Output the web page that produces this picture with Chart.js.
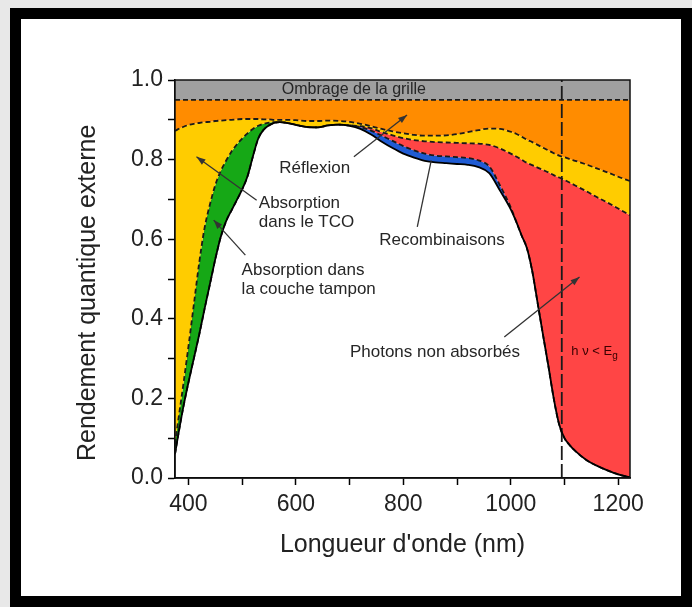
<!DOCTYPE html>
<html><head><meta charset="utf-8">
<script src="https://cdn.jsdelivr.net/npm/chart.js@4.4.1/dist/chart.umd.min.js"></script>
<style>
html,body{margin:0;padding:0;background:#e8e8e8;}
#wrap{position:relative;width:692px;height:607px;overflow:hidden;background:#e8e8e8;}
#frame{position:absolute;left:10px;top:8px;width:682px;height:599px;border:11px solid #000;box-sizing:border-box;background:#fff;}
#c{position:absolute;left:0;top:0;}
</style></head>
<body>
<div id="wrap"><div id="frame"></div><canvas id="c" width="692" height="607"></canvas></div>
<script>
// ---- data (wavelength in nm, values = external quantum efficiency) ----
const WAVELENGTHS = [375,380,390,400,410,420,430,440,450,460,470,480,490,500,510,520,530,540,550,560,570,580,600,620,640,660,680,700,720,740,760,780,800,820,840,860,880,900,920,940,960,980,1000,1010,1020,1030,1040,1050,1060,1070,1080,1090,1100,1110,1120,1140,1160,1180,1200,1222];
// measured EQE (solid black curve)
const EQE = [0.06,0.1,0.175,0.24,0.3,0.36,0.425,0.487,0.55,0.605,0.645,0.672,0.698,0.725,0.758,0.808,0.853,0.875,0.886,0.892,0.894,0.893,0.887,0.882,0.881,0.886,0.888,0.885,0.877,0.863,0.845,0.829,0.815,0.805,0.797,0.793,0.791,0.789,0.787,0.781,0.766,0.722,0.675,0.645,0.61,0.578,0.52,0.44,0.36,0.282,0.2,0.135,0.1,0.082,0.068,0.046,0.031,0.019,0.009,0.002];
// EQE + recombination losses (top of blue band)
const RECOMB = [0.06,0.1,0.175,0.24,0.3,0.36,0.425,0.487,0.55,0.605,0.645,0.672,0.698,0.725,0.758,0.808,0.853,0.875,0.886,0.892,0.894,0.893,0.887,0.882,0.881,0.886,0.888,0.886,0.882,0.873,0.86,0.847,0.834,0.823,0.815,0.81,0.808,0.806,0.804,0.798,0.783,0.735,0.68,0.645,0.61,0.578,0.52,0.44,0.36,0.282,0.2,0.135,0.1,0.082,0.068,0.046,0.031,0.019,0.009,0.002];
// after TCO absorption (lower dashed curve: top of green on the left, top of red on the right)
const ABS_LIMIT = [0.085,0.135,0.23,0.33,0.435,0.54,0.628,0.687,0.736,0.771,0.797,0.82,0.838,0.853,0.866,0.877,0.885,0.89,0.893,0.894,0.894,0.893,0.887,0.882,0.881,0.886,0.888,0.886,0.884,0.879,0.869,0.861,0.854,0.849,0.846,0.844,0.843,0.842,0.841,0.84,0.837,0.828,0.815,0.808,0.8,0.792,0.786,0.78,0.774,0.768,0.761,0.755,0.749,0.742,0.735,0.721,0.706,0.692,0.677,0.66];
// after reflection (upper dashed curve)
const REFLEX = [0.872,0.876,0.882,0.887,0.89,0.892,0.894,0.895,0.897,0.898,0.899,0.9,0.901,0.902,0.902,0.902,0.902,0.901,0.901,0.9,0.9,0.9,0.899,0.897,0.897,0.898,0.897,0.895,0.89,0.884,0.877,0.871,0.866,0.862,0.86,0.86,0.861,0.864,0.869,0.874,0.878,0.877,0.87,0.865,0.858,0.85,0.844,0.837,0.83,0.823,0.816,0.81,0.806,0.801,0.797,0.788,0.778,0.768,0.757,0.746];
const GRID_SHADING = 0.95;   // level below grid shading
const TOP_LEVEL = 1.0;
const BANDGAP_NM = 1095;     // h nu = Eg
const GREEN_RED_SPLIT_NM = 640;
const X_TICKS = [400,500,600,700,800,900,1000,1100,1200];

// annotations (data units)
const LABELS = [
  {text:'Ombrage de la grille', x:708, y:0.975, align:'center', size:16},
  {text:'Réflexion', x:635, y:0.779, align:'center', size:17},
  {text:'Absorption', x:531, y:0.691, align:'left', size:17},
  {text:'dans le TCO', x:531, y:0.643, align:'left', size:17},
  {text:'Absorption dans', x:499, y:0.523, align:'left', size:17},
  {text:'la couche tampon', x:499, y:0.475, align:'left', size:17},
  {text:'Recombinaisons', x:872, y:0.598, align:'center', size:17},
  {text:'Photons non absorbés', x:859, y:0.317, align:'center', size:17}
];
const ARROWS = [
  {from:[708,0.807], to:[807,0.912], head:true},
  {from:[527,0.698], to:[415,0.807], head:true},
  {from:[506,0.56], to:[447,0.648], head:true},
  {from:[826,0.631], to:[852,0.798], head:false},
  {from:[988,0.354], to:[1128,0.505], head:true}
];
const HNU_POS = [1156, 0.317];

const FONT = "'Liberation Sans', Arial, sans-serif";
const pts = arr => WAVELENGTHS.map((w,i)=>({x:w, y:arr[i]}));
const constPts = v => WAVELENGTHS.map(w=>({x:w, y:v}));

const COLORS = {grey:'#a0a0a0', orange:'#ff8c00', yellow:'#ffcc00', green:'#16a816', red:'#ff4545', blue:'#1f5bd3'};

function splitFill(context){
  const chart = context.chart;
  const a = chart.chartArea;
  if (!a || !chart.scales.x) return COLORS.green;
  const xs = chart.scales.x.getPixelForValue(GREEN_RED_SPLIT_NM);
  const g = chart.ctx.createLinearGradient(a.left,0,a.right,0);
  const t = Math.min(1, Math.max(0,(xs-a.left)/(a.right-a.left)));
  g.addColorStop(0, COLORS.green); g.addColorStop(t, COLORS.green);
  g.addColorStop(t, COLORS.red); g.addColorStop(1, COLORS.red);
  return g;
}

const dashed = {borderColor:'#1a1a1a', borderWidth:1.8, borderDash:[5,3]};

const annotPlugin = {
  id:'annot',
  afterDatasetsDraw(chart){
    const {ctx, scales:{x,y}, chartArea:a} = chart;
    ctx.save();
    ctx.strokeStyle='#111'; ctx.lineWidth=1.5;
    ctx.strokeRect(a.left, a.top, a.right-a.left, a.bottom-a.top);
    // arrows
    ctx.strokeStyle='#333'; ctx.fillStyle='#333'; ctx.lineWidth=1.3;
    ARROWS.forEach(ar=>{
      const x0=x.getPixelForValue(ar.from[0]), y0=y.getPixelForValue(ar.from[1]);
      const x1=x.getPixelForValue(ar.to[0]), y1=y.getPixelForValue(ar.to[1]);
      ctx.beginPath(); ctx.moveTo(x0,y0); ctx.lineTo(x1,y1); ctx.stroke();
      if (ar.head){
        const ang=Math.atan2(y1-y0,x1-x0), L=9, W=3.2;
        ctx.beginPath();
        ctx.moveTo(x1,y1);
        ctx.lineTo(x1-L*Math.cos(ang)+W*Math.sin(ang), y1-L*Math.sin(ang)-W*Math.cos(ang));
        ctx.lineTo(x1-L*Math.cos(ang)-W*Math.sin(ang), y1-L*Math.sin(ang)+W*Math.cos(ang));
        ctx.closePath(); ctx.fill();
      }
    });
    // labels
    ctx.fillStyle='#262626'; ctx.textBaseline='middle';
    LABELS.forEach(l=>{
      ctx.font = l.size+'px '+FONT;
      ctx.textAlign = l.align;
      ctx.fillText(l.text, x.getPixelForValue(l.x), y.getPixelForValue(l.y));
    });
    // h nu < E_g
    const hx = x.getPixelForValue(HNU_POS[0]), hy = y.getPixelForValue(HNU_POS[1]);
    ctx.fillStyle='#3a0000';
    ctx.font='13px '+FONT;
    const main='h ν < E', sub='g';
    const wMain=ctx.measureText(main).width;
    ctx.font='10px '+FONT;
    const wSub=ctx.measureText(sub).width;
    const start=hx-(wMain+wSub)/2;
    ctx.textAlign='left';
    ctx.font='13px '+FONT; ctx.fillText(main,start,hy);
    ctx.font='10px '+FONT; ctx.fillText(sub,start+wMain,hy+4);
    ctx.restore();
  }
};

new Chart(document.getElementById('c'), {
  type:'line',
  data:{datasets:[
    {data:constPts(TOP_LEVEL), borderWidth:0, borderColor:'rgba(0,0,0,0)', fill:'+1', backgroundColor:COLORS.grey},
    {data:constPts(GRID_SHADING), ...dashed, fill:'+1', backgroundColor:COLORS.orange},
    {data:pts(REFLEX), ...dashed, fill:'+1', backgroundColor:COLORS.yellow, cubicInterpolationMode:'monotone'},
    {data:pts(ABS_LIMIT), ...dashed, fill:'+1', backgroundColor:splitFill, cubicInterpolationMode:'monotone'},
    {data:pts(RECOMB), ...dashed, fill:'+1', backgroundColor:COLORS.blue, cubicInterpolationMode:'monotone'},
    {data:pts(EQE), borderColor:'#000', borderWidth:1.8, fill:false, cubicInterpolationMode:'monotone', order:-2},
    {data:[{x:BANDGAP_NM,y:0},{x:BANDGAP_NM,y:TOP_LEVEL}], borderColor:'#1a1a1a', borderWidth:1.8, borderDash:[14,4], fill:false, tension:0, order:-1}
  ]},
  options:{
    responsive:false, animation:false, devicePixelRatio:1,
    layout:{padding:{left:70, top:80, right:62, bottom:0}},
    elements:{point:{radius:0}},
    plugins:{legend:{display:false}, tooltip:{enabled:false}, filler:{drawTime:'beforeDatasetsDraw', propagate:false}},
    scales:{
      x:{type:'linear', min:375, max:1222,
        afterFit(s){ s.height=129; },
        afterBuildTicks(s){ s.ticks = X_TICKS.map(v=>({value:v})); },
        ticks:{autoSkip:false, maxRotation:0, padding:6, color:'#222', font:{family:FONT, size:23},
          callback:v=> (v%200===0 ? String(v) : '')},
        grid:{drawOnChartArea:false, drawTicks:true, tickLength:7, color:'#000', tickWidth:1.5},
        border:{display:true, color:'#000', width:1.5},
        title:{display:true, text:"Longueur d'onde (nm)", color:'#222', font:{family:FONT, size:25}, padding:{top:0,bottom:47}}
      },
      y:{type:'linear', min:0, max:1,
        afterFit(s){ s.width=105; },
        ticks:{stepSize:0.1, autoSkip:false, padding:5, color:'#222', font:{family:FONT, size:23},
          callback:v=> (Math.round(v*10)%2===0 ? v.toFixed(1) : '')},
        grid:{drawOnChartArea:false, drawTicks:true, tickLength:7, color:'#000', tickWidth:1.5},
        border:{display:true, color:'#000', width:1.5},
        title:{display:true, text:'Rendement quantique externe\u00a0\u00a0\u00a0\u00a0', color:'#222', font:{family:FONT, size:25}, padding:{top:3,bottom:0}}
      }
    }
  },
  plugins:[annotPlugin]
});
</script>
</body></html>
